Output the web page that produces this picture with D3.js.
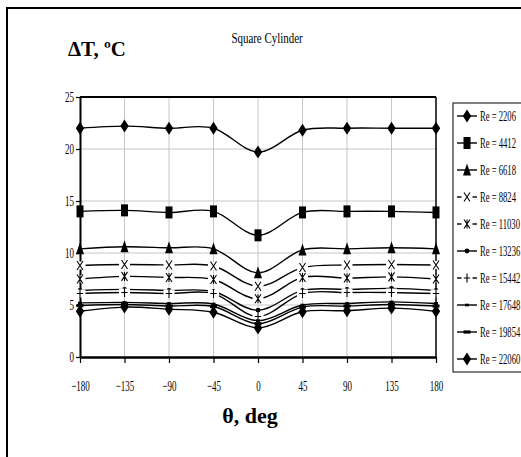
<!DOCTYPE html>
<html>
<head>
<meta charset="utf-8">
<script src="https://cdn.jsdelivr.net/npm/d3@7/dist/d3.min.js"></script>
<style>
  html, body { margin: 0; padding: 0; background: #fff; }
  svg { display: block; }
  text { font-family: "Liberation Serif", "Times New Roman", serif; fill: #000; }
</style>
</head>
<body>
<script>
// Angle around the cylinder (deg)
const theta = [-180, -135, -90, -45, 0, 45, 90, 135, 180];
const yTicks = [0, 5, 10, 15, 20, 25];

// Temperature difference ΔT (°C) per Reynolds number
const re2206  = [22.0, 22.2, 22.0, 22.0, 19.7, 21.8, 22.0, 22.0, 22.0];
const re4412  = [14.0, 14.1, 13.9, 14.0, 11.7, 13.9, 14.0, 14.0, 13.9];
const re6618  = [10.4, 10.6, 10.5, 10.4, 8.1, 10.3, 10.4, 10.5, 10.4];
const re8824  = [8.8, 8.9, 8.85, 8.75, 6.8, 8.6, 8.85, 8.9, 8.85];
const re11030 = [7.5, 7.75, 7.65, 7.45, 5.6, 7.65, 7.6, 7.7, 7.5];
const re13236 = [6.4, 6.5, 6.4, 6.3, 4.5, 6.4, 6.5, 6.6, 6.4];
const re15442 = [6.1, 6.2, 6.1, 6.1, 3.9, 6.1, 6.2, 6.2, 6.1];
const re17648 = [5.2, 5.25, 5.15, 5.1, 3.5, 5.0, 5.15, 5.3, 5.15];
const re19854 = [4.95, 5.05, 4.9, 4.85, 3.2, 4.8, 4.9, 5.05, 4.9];
const re22060 = [4.4, 4.8, 4.6, 4.3, 2.8, 4.35, 4.45, 4.7, 4.4];

const reLabels = ["Re = 2206", "Re = 4412", "Re = 6618", "Re = 8824", "Re = 11030",
                  "Re = 13236", "Re = 15442", "Re = 17648", "Re = 19854", "Re = 22060"];
const markerTypes = ["diamond", "square", "triangle", "x", "star",
                     "dot", "plus", "dash", "bar", "diamond"];

const seriesValues = [re2206, re4412, re6618, re8824, re11030,
                      re13236, re15442, re17648, re19854, re22060];
const series = seriesValues.map((vals, i) => ({
  label: reLabels[i],
  marker: markerTypes[i],
  points: vals.map((v, j) => ({ t: theta[j], v }))
}));

const W = 521, H = 457;
const plot = { left: 80, right: 436, top: 97, bottom: 357 };

const svg = d3.select("body").append("svg")
  .attr("width", W).attr("height", H);

// outer chart frame
svg.append("rect")
  .attr("x", 7).attr("y", 8).attr("width", 540).attr("height", 470)
  .attr("fill", "#fff").attr("stroke", "#000").attr("stroke-width", 2);

const x = d3.scaleLinear().domain([-180, 180]).range([plot.left, plot.right]);
const y = d3.scaleLinear().domain([0, 25]).range([plot.bottom, plot.top]);

// gridlines
const grid = svg.append("g").attr("stroke", "#c6c6c6").attr("stroke-width", 1);
grid.selectAll(".vg").data(theta.slice(1, -1)).join("line")
  .attr("x1", d => x(d)).attr("x2", d => x(d))
  .attr("y1", plot.top).attr("y2", plot.bottom);
grid.selectAll(".hg").data(yTicks.slice(1, -1)).join("line")
  .attr("x1", plot.left).attr("x2", plot.right)
  .attr("y1", d => y(d)).attr("y2", d => y(d));

// top and right border of the plot area
svg.append("line").attr("x1", plot.left).attr("x2", plot.right)
  .attr("y1", plot.top).attr("y2", plot.top)
  .attr("stroke", "#000").attr("stroke-width", 2);
svg.append("line").attr("x1", plot.right).attr("x2", plot.right)
  .attr("y1", plot.top).attr("y2", plot.bottom)
  .attr("stroke", "#000").attr("stroke-width", 1.5);

const cond = 0.6; // narrow tick / legend lettering

// axes
const xAxis = svg.append("g")
  .attr("transform", `translate(0,${plot.bottom})`)
  .call(d3.axisBottom(x).tickValues(theta).tickSize(6).tickSizeOuter(0).tickFormat(d3.format("d")));
xAxis.select(".domain").attr("stroke-width", 2.5);
xAxis.selectAll(".tick line").attr("stroke-width", 1.2);
xAxis.selectAll(".tick text")
  .attr("font-family", "Liberation Serif").attr("font-size", 15)
  .attr("y", 0).attr("dy", 0)
  .attr("transform", `translate(0,34) scale(${cond},1)`);

const yAxis = svg.append("g")
  .attr("transform", `translate(${plot.left},0)`)
  .call(d3.axisLeft(y).tickValues(yTicks).tickSize(4).tickSizeOuter(0).tickFormat(d3.format("d")));
yAxis.select(".domain").attr("stroke-width", 2);
yAxis.selectAll(".tick line").attr("stroke-width", 1.2);
yAxis.selectAll(".tick text")
  .attr("font-family", "Liberation Serif").attr("font-size", 15)
  .attr("x", 0).attr("dy", "0.32em")
  .attr("transform", `translate(-6,0) scale(${cond},1)`);

// marker glyphs
function drawMarker(g, type, cx, cy) {
  const m = g.append("g").attr("transform", `translate(${cx},${cy})`);
  const knockout = () => m.append("rect").attr("x", -5.5).attr("y", -4)
    .attr("width", 11).attr("height", 8).attr("fill", "#fff");
  switch (type) {
    case "diamond":
      m.append("path").attr("d", "M0,-6.5L4.2,0L0,6.5L-4.2,0Z").attr("fill", "#000");
      break;
    case "square":
      m.append("rect").attr("x", -3.5).attr("y", -6).attr("width", 7).attr("height", 12).attr("fill", "#000");
      break;
    case "triangle":
      m.append("path").attr("d", "M0,-6.5L4,5.5L-4,5.5Z").attr("fill", "#000");
      break;
    case "x":
      knockout();
      m.append("path").attr("d", "M-3,-4.5L3,4.5M3,-4.5L-3,4.5")
        .attr("stroke", "#000").attr("stroke-width", 1.1).attr("fill", "none");
      break;
    case "star":
      knockout();
      m.append("path").attr("d", "M-3,-4.5L3,4.5M3,-4.5L-3,4.5M0,-4.5L0,4.5")
        .attr("stroke", "#000").attr("stroke-width", 1.1).attr("fill", "none");
      break;
    case "plus":
      knockout();
      m.append("path").attr("d", "M0,-4.5L0,4.5M-3.2,0L3.2,0")
        .attr("stroke", "#000").attr("stroke-width", 1.1).attr("fill", "none");
      break;
    case "dot":
      m.append("circle").attr("r", 2.4).attr("fill", "#000");
      break;
    case "dash":
      m.append("rect").attr("x", -2).attr("y", -1.3).attr("width", 4).attr("height", 2.6).attr("fill", "#000");
      break;
    case "bar":
      m.append("rect").attr("x", -3.5).attr("y", -1.6).attr("width", 7).attr("height", 3.2).attr("fill", "#000");
      break;
  }
}

// smoothed series lines with markers
const line = d3.line()
  .x(d => x(d.t)).y(d => y(d.v))
  .curve(d3.curveCardinal.tension(0));

const marks = svg.append("g");
series.forEach(s => {
  const g = marks.append("g");
  g.append("path").datum(s.points)
    .attr("d", line).attr("fill", "none")
    .attr("stroke", "#000").attr("stroke-width", 1.4);
  s.points.forEach(p => drawMarker(g, s.marker, x(p.t), y(p.v)));
});

// legend
const lg = svg.append("g");
lg.append("rect").attr("x", 453).attr("y", 103).attr("width", 80).attr("height", 269)
  .attr("fill", "#fff").attr("stroke", "#000").attr("stroke-width", 1);
const legendY = d3.scalePoint().domain(reLabels).range([116, 359]);
series.forEach(s => {
  const yy = legendY(s.label);
  lg.append("line").attr("x1", 457).attr("x2", 477).attr("y1", yy).attr("y2", yy)
    .attr("stroke", "#000").attr("stroke-width", 1.4);
  drawMarker(lg, s.marker, 467, yy);
  lg.append("text")
    .attr("transform", `translate(480,${yy}) scale(0.575,1)`)
    .attr("dy", "0.35em").attr("font-size", 15)
    .text(s.label);
});

// titles
svg.append("text")
  .attr("transform", "translate(267,43) scale(0.78,1)")
  .attr("text-anchor", "middle").attr("font-size", 14)
  .text("Square Cylinder");
svg.append("text")
  .attr("transform", "translate(68,56) scale(0.95,1)")
  .attr("font-size", 22).attr("font-weight", "bold")
  .text("ΔT, ºC");
svg.append("text")
  .attr("transform", "translate(250,423)")
  .attr("text-anchor", "middle").attr("font-size", 22).attr("font-weight", "bold")
  .text("θ, deg");
</script>
</body>
</html>
